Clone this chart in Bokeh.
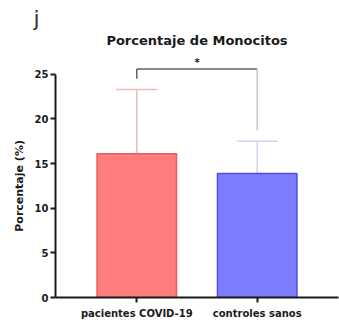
from bokeh.plotting import figure
from bokeh.models import FactorRange, Range1d, FixedTicker, Label, ColumnDataSource, Whisker, TeeHead, Title
from bokeh.embed import file_html
from bokeh.resources import INLINE

# ---- data ----
categories = ["pacientes COVID-19", "controles sanos"]
means = [16.1, 13.9]
upper = [23.3, 17.5]          # mean + SD
y_ticks = [0, 5, 10, 15, 20, 25]
bracket_top = 25.6
bracket_legs = [24.5, 18.7]
sig_label = "*"

fill_colors = ["#FF7C7C", "#7C7CFF"]
line_colors = ["#E85C5C", "#4E4EE6"]
err_colors = ["#EDBABA", "#D2D2F2"]

FONT = "DejaVu Sans"
NBSP = "\u00a0"

p = figure(width=339, height=326, output_backend="svg", toolbar_location=None,
           x_range=FactorRange(factors=categories, range_padding=0.175),
           y_range=Range1d(0, 28),
           min_border_left=55, min_border_right=1, min_border_top=47, min_border_bottom=29)

src = ColumnDataSource(dict(cat=categories, mean=means, upper=upper,
                            fill=fill_colors, line=line_colors, err=err_colors))

# error bars (upper only)
for i in range(len(categories)):
    s = ColumnDataSource(dict(cat=[categories[i]], mean=[means[i]], upper=[upper[i]]))
    w = Whisker(base="cat", lower="mean", upper="upper", source=s, dimension="height",
                line_color=err_colors[i], line_width=1.5,
                upper_head=TeeHead(size=41, line_color=err_colors[i], line_width=1.5),
                lower_head=None)
    p.add_layout(w)

# bars
p.vbar(x="cat", top="mean", bottom=0, width=0.66, source=src,
       fill_color="fill", line_color="line", line_width=1.5)

# significance bracket
p.segment(x0=[categories[0], categories[0]], y0=[bracket_legs[0], bracket_top],
          x1=[categories[0], categories[1]], y1=[bracket_top, bracket_top],
          line_color="#606060", line_width=1.5)
p.segment(x0=[categories[1]], y0=[bracket_legs[1]], x1=[categories[1]], y1=[bracket_top],
          line_color="#C4C4C8", line_width=1.5)
p.add_layout(Label(x=1.0, y=bracket_top + 0.15, text=sig_label, text_align="center",
                   text_baseline="bottom", text_font=FONT, text_font_style="bold",
                   text_font_size="10px", text_color="#222222"))

# panel letter (outermost title)
p.title.text = "j"
p.title.align = "left"
p.title.offset = -22
p.title.text_font = FONT
p.title.text_font_style = "normal"
p.title.text_font_size = "22px"
p.title.text_color = "#333333"
p.title.standoff = 0

# chart title (nearest the frame)
p.add_layout(Title(text="Porcentaje de Monocitos", align="center", text_font=FONT,
                   text_font_size="13px", text_font_style="bold",
                   text_color="#1a1a1a", standoff=0), "above")

# axes
p.yaxis.bounds = (0, 25)
p.yaxis.ticker = FixedTicker(ticks=y_ticks)
p.yaxis.minor_tick_line_color = None
p.yaxis.axis_label = "Porcentaje (%)" + NBSP * 7
p.yaxis.axis_label_text_font = FONT
p.yaxis.axis_label_text_font_style = "bold"
p.yaxis.axis_label_text_font_size = "11px"
p.yaxis.axis_label_text_color = "#1a1a1a"
p.yaxis.axis_label_standoff = 6

for ax in (p.xaxis, p.yaxis):
    ax.axis_line_width = 2
    ax.axis_line_color = "#1a1a1a"
    ax.major_tick_line_width = 2
    ax.major_tick_line_color = "#1a1a1a"
    ax.major_tick_out = 5
    ax.major_tick_in = 0
    ax.major_label_text_font = FONT
    ax.major_label_text_font_style = "bold"
    ax.major_label_text_font_size = "10px"
    ax.major_label_text_color = "#1a1a1a"
    ax.major_label_standoff = 2

p.xaxis.major_label_standoff = 5
p.xgrid.grid_line_color = None
p.ygrid.grid_line_color = None
p.outline_line_color = None

open("out.html", "w").write(file_html(p, INLINE))
